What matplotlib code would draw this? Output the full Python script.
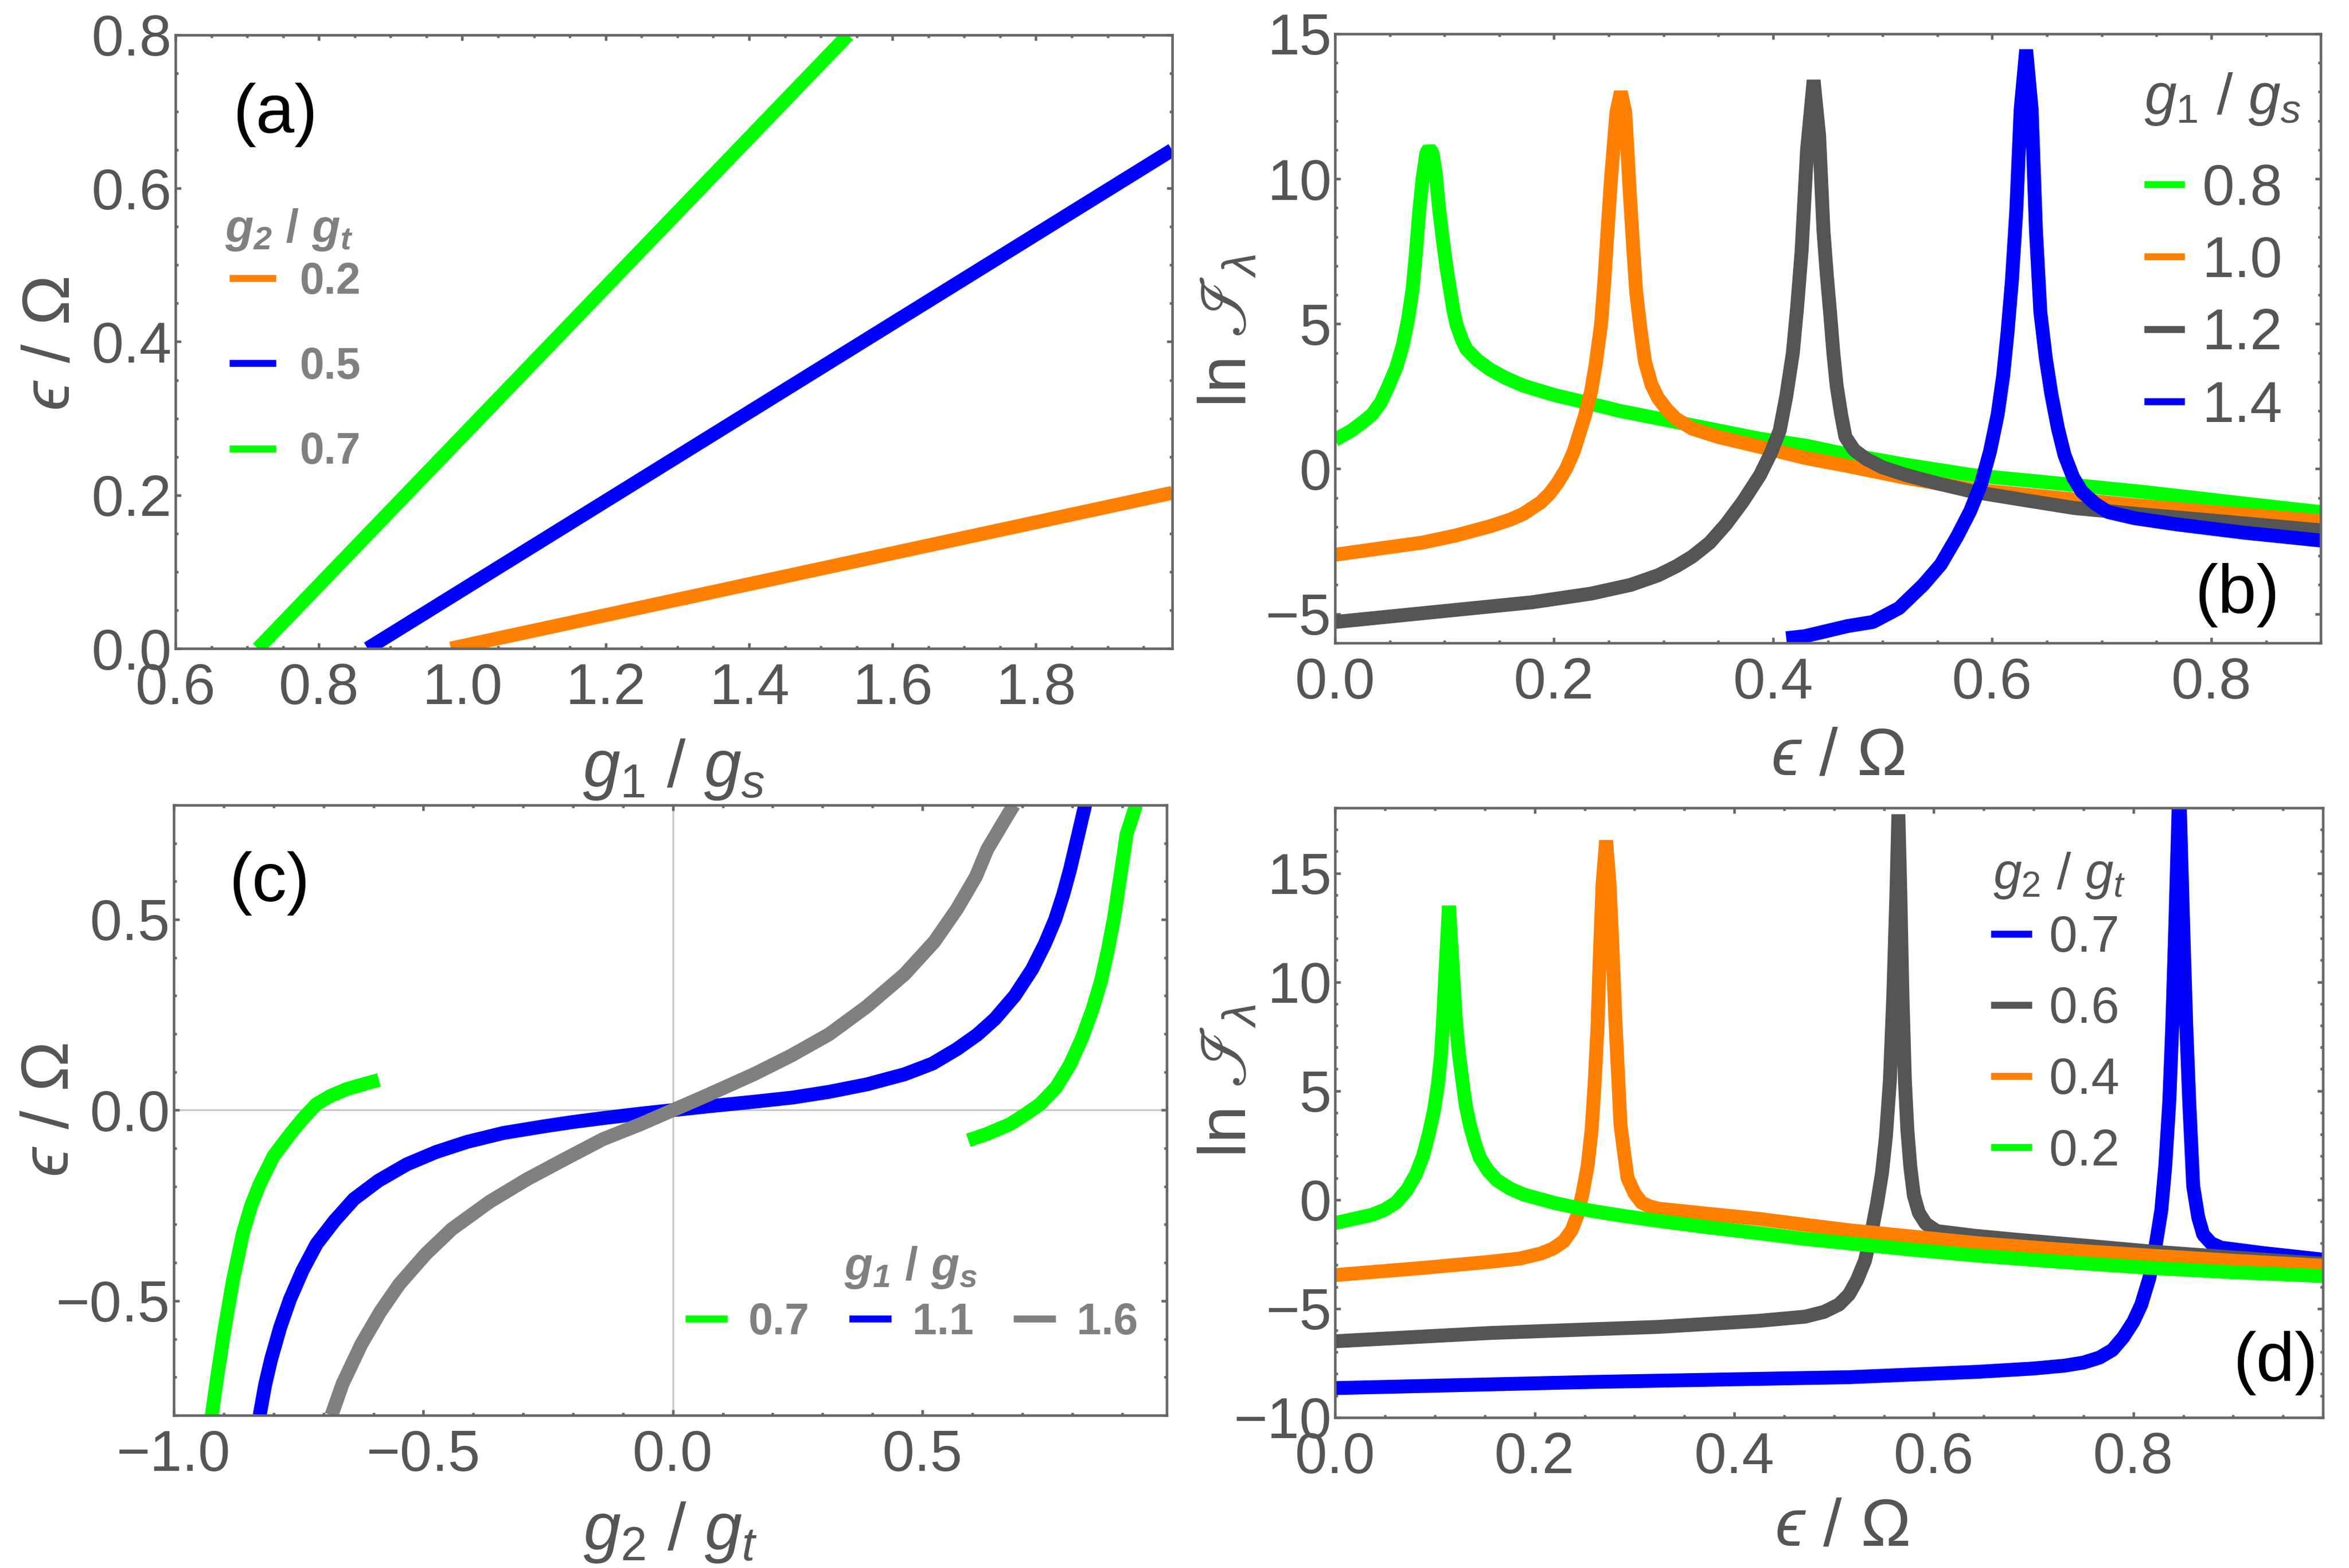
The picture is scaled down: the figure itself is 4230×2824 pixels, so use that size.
import numpy as np
import matplotlib
matplotlib.use("Agg")
from matplotlib import pyplot as plt
from matplotlib.lines import Line2D
from matplotlib.ticker import MultipleLocator

plt.rcParams["font.family"] = ["Liberation Sans", "DejaVu Sans"]
plt.rcParams["mathtext.fontset"] = "custom"
plt.rcParams["mathtext.rm"] = "Liberation Sans"
plt.rcParams["mathtext.it"] = "Liberation Sans:italic"
plt.rcParams["mathtext.bf"] = "Liberation Sans:bold"
plt.rcParams["mathtext.bfit"] = "Liberation Sans:italic:bold"
plt.rcParams["mathtext.fallback"] = "stixsans"

GREEN = "#00ff00"
ORANGE = "#ff8000"
BLUE = "#0000ff"
DGRAY = "#555555"
LGRAY = "#808080"
FRAME = "#666666"
TXT = "#555555"

# ---- (a) eps vs g1/gs for several g2/gt (straight lines)
a_labels = ["0.2", "0.5", "0.7"]
a_x = [[0.984, 1.99], [0.868, 1.99], [0.715, 1.538]]
a_y = [[0.0, 0.203], [0.0, 0.65], [0.0, 0.8]]

# ---- (b) ln I vs eps for several g1/gs
b_labels = ["0.8", "1.0", "1.2", "1.4"]
b_x_08 = [0.0, 0.015, 0.025, 0.034, 0.042, 0.049, 0.056, 0.062, 0.067, 0.071, 0.074,
          0.077, 0.08, 0.0835, 0.086, 0.089, 0.092, 0.095, 0.0985, 0.102, 0.105, 0.108,
          0.111, 0.116, 0.12, 0.13, 0.1415, 0.155, 0.172, 0.2, 0.228, 0.26, 0.295, 0.34,
          0.388, 0.43, 0.468, 0.52, 0.583, 0.66, 0.737, 0.82, 0.9]
b_y_08 = [1.0, 1.32, 1.6, 1.88, 2.3, 2.87, 3.5, 4.27, 5.2, 6.24, 7.5,
          8.9, 10.0, 10.9, 11.05, 10.9, 10.2, 9.0, 7.9, 6.9, 6.2, 5.5,
          4.97, 4.45, 4.13, 3.75, 3.43, 3.15, 2.87, 2.55, 2.3, 2.0, 1.74, 1.4,
          1.04, 0.8, 0.5, 0.15, -0.22, -0.5, -0.79, -1.15, -1.49]
b_x_10 = [0.0, 0.04, 0.08, 0.11, 0.1415, 0.16, 0.172, 0.188, 0.196, 0.203, 0.211,
          0.218, 0.228, 0.234, 0.238, 0.243, 0.246, 0.249, 0.252, 0.257, 0.261, 0.265,
          0.267, 0.269, 0.272, 0.275, 0.279, 0.283, 0.289, 0.295, 0.303, 0.311, 0.326,
          0.35, 0.388, 0.429, 0.468, 0.52, 0.583, 0.66, 0.737, 0.82, 0.9]
b_y_10 = [-2.96, -2.75, -2.54, -2.3, -1.98, -1.75, -1.55, -1.15, -0.85, -0.5, 0.0,
          0.6, 1.8, 2.7, 3.6, 5.0, 6.5, 8.3, 10.0, 12.3, 13.0, 12.3,
          11.0, 9.6, 7.8, 6.1, 4.8, 3.7, 2.9, 2.44, 2.05, 1.74, 1.39,
          1.1, 0.76, 0.38, 0.1, -0.3, -0.72, -1.0, -1.28, -1.55, -1.8]
b_x_12 = [0.0, 0.111, 0.18, 0.234, 0.27, 0.295, 0.312, 0.326, 0.342, 0.357, 0.372,
          0.388, 0.398, 0.406, 0.412, 0.418, 0.422, 0.426, 0.431, 0.437, 0.442, 0.446,
          0.449, 0.452, 0.455, 0.458, 0.462, 0.466, 0.474, 0.485, 0.5, 0.522, 0.55,
          0.583, 0.63, 0.675, 0.74, 0.798, 0.9]
b_y_12 = [-5.28, -4.86, -4.6, -4.3, -4.0, -3.67, -3.35, -3.03, -2.55, -1.91, -1.15,
          -0.22, 0.55, 1.32, 2.5, 3.99, 5.6, 7.5, 11.0, 13.4, 11.5, 8.2,
          6.7, 5.4, 4.0, 2.87, 1.9, 1.1, 0.65, 0.34, 0.05, -0.22, -0.5,
          -0.79, -1.08, -1.35, -1.58, -1.77, -2.12]
b_x_14 = [0.412, 0.429, 0.468, 0.491, 0.515, 0.537, 0.553, 0.568, 0.58, 0.59, 0.598,
          0.605, 0.61, 0.614, 0.618, 0.622, 0.626, 0.631, 0.636, 0.64, 0.644, 0.649,
          0.654, 0.66, 0.666, 0.674, 0.682, 0.694, 0.706, 0.73, 0.768, 0.83, 0.9]
b_y_14 = [-5.84, -5.77, -5.42, -5.28, -4.8, -4.0, -3.3, -2.33, -1.45, -0.5, 0.6,
          1.88, 3.2, 4.7, 6.5, 8.9, 12.4, 14.45, 12.4, 8.2, 5.4, 3.8,
          2.58, 1.4, 0.48, -0.3, -0.79, -1.2, -1.49, -1.7, -1.91, -2.2, -2.47]

# ---- (c) eps vs g2/gt for several g1/gs
c_labels = ["0.7", "1.1", "1.6"]
c_x_07_left = [-0.924, -0.912, -0.90, -0.882, -0.862, -0.845, -0.828, -0.8, -0.767,
               -0.74, -0.714, -0.685, -0.654, -0.62, -0.589]
c_y_07_left = [-0.8, -0.69, -0.587, -0.45, -0.325, -0.25, -0.194, -0.12, -0.063,
               -0.02, 0.016, 0.038, 0.055, 0.068, 0.079]
c_x_07_right = [0.592, 0.63, 0.675, 0.705, 0.736, 0.768, 0.796, 0.82, 0.841, 0.858,
                0.872, 0.884, 0.894, 0.902, 0.909, 0.928]
c_y_07_right = [-0.079, -0.062, -0.037, -0.012, 0.016, 0.06, 0.12, 0.19, 0.265, 0.34,
                0.422, 0.505, 0.592, 0.66, 0.723, 0.8]
c_x_11 = [-0.828, -0.817, -0.805, -0.787, -0.767, -0.742, -0.714, -0.678, -0.639, -0.59,
          -0.533, -0.475, -0.412, -0.34, -0.261, -0.2, -0.14, -0.07, 0.0, 0.07,
          0.162, 0.24, 0.313, 0.39, 0.464, 0.52, 0.569, 0.61, 0.645, 0.685,
          0.72, 0.745, 0.766, 0.782, 0.796, 0.81, 0.826]
c_y_11 = [-0.8, -0.72, -0.653, -0.57, -0.495, -0.42, -0.351, -0.29, -0.233, -0.185,
          -0.142, -0.11, -0.083, -0.06, -0.043, -0.031, -0.021, -0.01, 0.0, 0.01,
          0.022, 0.033, 0.048, 0.068, 0.094, 0.122, 0.16, 0.198, 0.239, 0.3,
          0.37, 0.435, 0.5, 0.565, 0.632, 0.71, 0.8]
c_x_16 = [-0.684, -0.662, -0.624, -0.586, -0.548, -0.495, -0.443, -0.367, -0.292, -0.216,
          -0.14, -0.065, 0.0, 0.065, 0.162, 0.237, 0.313, 0.388, 0.464, 0.524,
          0.569, 0.607, 0.63, 0.66, 0.683]
c_y_16 = [-0.8, -0.718, -0.613, -0.528, -0.456, -0.377, -0.312, -0.24, -0.181, -0.128,
          -0.076, -0.037, 0.0, 0.037, 0.094, 0.143, 0.199, 0.271, 0.356, 0.442,
          0.527, 0.612, 0.684, 0.75, 0.8]

# ---- (d) ln I vs eps for several g2/gt
d_labels = ["0.7", "0.6", "0.4", "0.2"]
d_x_02 = [0.0, 0.037, 0.05, 0.061, 0.072, 0.081, 0.088, 0.094, 0.099, 0.103, 0.106,
          0.108, 0.111, 0.114, 0.118, 0.121, 0.124, 0.128, 0.131, 0.135, 0.14, 0.145,
          0.153, 0.162, 0.175, 0.189, 0.22, 0.256, 0.29, 0.324, 0.375, 0.425, 0.471,
          0.515, 0.58, 0.645, 0.73, 0.818, 0.9, 0.99]
d_y_02 = [-1.07, -0.69, -0.45, -0.13, 0.45, 1.18, 2.0, 3.05, 4.1, 5.3, 6.6,
          8.1, 10.9, 13.5, 10.5, 8.2, 6.7, 5.3, 4.3, 3.43, 2.6, 1.93,
          1.35, 0.9, 0.52, 0.24, -0.15, -0.5, -0.75, -0.97, -1.27, -1.54, -1.8,
          -2.0, -2.3, -2.57, -2.86, -3.13, -3.33, -3.5]
d_x_04 = [0.0, 0.088, 0.155, 0.185, 0.206, 0.218, 0.229, 0.237, 0.243, 0.248, 0.253,
          0.257, 0.26, 0.263, 0.265, 0.268, 0.2715, 0.275, 0.278, 0.281, 0.284, 0.286,
          0.29, 0.293, 0.3, 0.307, 0.315, 0.324, 0.375, 0.425, 0.471, 0.515, 0.58,
          0.645, 0.73, 0.818, 0.9, 0.99]
d_y_04 = [-3.46, -3.13, -2.85, -2.7, -2.47, -2.25, -1.91, -1.4, -0.69, 0.3, 1.55,
          3.2, 5.3, 8.0, 10.9, 14.5, 16.5, 14.5, 11.5, 8.1, 5.3, 3.43,
          2.0, 1.0, 0.3, -0.13, -0.3, -0.41, -0.65, -0.88, -1.15, -1.4, -1.7,
          -2.0, -2.3, -2.57, -2.8, -3.03]
d_x_06 = [0.0, 0.155, 0.324, 0.425, 0.471, 0.49, 0.505, 0.515, 0.523, 0.531, 0.537,
          0.543, 0.548, 0.552, 0.556, 0.5595, 0.5625, 0.5645, 0.5665, 0.5685, 0.571,
          0.5735, 0.5765, 0.58, 0.585, 0.592, 0.603, 0.64, 0.679, 0.75, 0.818, 0.9, 0.99]
d_y_06 = [-6.5, -6.12, -5.84, -5.56, -5.37, -5.15, -4.81, -4.35, -3.69, -2.8, -1.63,
          -0.2, 1.2, 2.9, 5.5, 9.5, 14.0, 17.7, 14.0, 9.5, 5.5,
          3.2, 1.5, 0.2, -0.6, -1.1, -1.44, -1.65, -1.82, -2.1, -2.38, -2.65, -2.94]
d_x_07 = [0.0, 0.256, 0.515, 0.645, 0.7, 0.731, 0.75, 0.766, 0.779, 0.79, 0.8,
          0.808, 0.816, 0.822, 0.828, 0.832, 0.836, 0.839, 0.842, 0.846, 0.85, 0.853,
          0.856, 0.86, 0.865, 0.87, 0.878, 0.888, 0.93, 0.99]
d_y_07 = [-8.65, -8.37, -8.15, -7.9, -7.75, -7.62, -7.48, -7.25, -6.9, -6.31, -5.6,
          -4.81, -3.6, -2.19, -0.5, 1.55, 4.5, 8.0, 12.5, 19.0, 12.5, 8.0,
          4.5, 0.62, -0.8, -1.6, -2.0, -2.2, -2.45, -2.75]

LW = 6.0
line_kw = dict(lw=LW, solid_capstyle="butt", solid_joinstyle="bevel")
TICK_FS = 25
LABEL_FS = 29
PANEL_FS = 30


def style(ax, xmaj, xmin, ymaj, ymin):
    ax.xaxis.set_major_locator(MultipleLocator(xmaj))
    ax.xaxis.set_minor_locator(MultipleLocator(xmin))
    ax.yaxis.set_major_locator(MultipleLocator(ymaj))
    ax.yaxis.set_minor_locator(MultipleLocator(ymin))
    ax.tick_params(which="both", direction="in", top=True, right=True,
                   color=FRAME, labelcolor=TXT, labelsize=TICK_FS, width=1.1)
    ax.tick_params(which="major", length=2.4)
    ax.tick_params(which="minor", length=1.3)
    ax.tick_params(axis="x", pad=6)
    ax.tick_params(axis="y", pad=1.5)
    for s in ax.spines.values():
        s.set_color(FRAME)
        s.set_linewidth(1.1)


def set_labels(ax, xl, yl, xpos, ypos):
    ax.set_xlabel(xl, fontsize=LABEL_FS, color=TXT)
    ax.set_ylabel(yl, fontsize=LABEL_FS, color=TXT)
    ax.xaxis.set_label_coords(*xpos)
    ax.yaxis.set_label_coords(*ypos)
    ax.xaxis.label.set_verticalalignment("center")
    ax.yaxis.label.set_verticalalignment("center")


def handles(colors):
    return [Line2D([], [], color=c, lw=3.0, solid_capstyle="butt") for c in colors]


fig = plt.figure(figsize=(4230 / 300, 2824 / 300), dpi=300)

# (a)
ax = fig.add_axes([0.0747, 0.5864, 0.4243, 0.3913])
for xs, ys, c in zip(a_x, a_y, [ORANGE, BLUE, GREEN]):
    ax.plot(xs, ys, color=c, **line_kw)
ax.set_xlim(0.6, 1.99)
ax.set_ylim(0.0, 0.8)
style(ax, 0.2, 0.05, 0.2, 0.05)
set_labels(ax, r"$g_1$ / $g_s$", r"$ϵ$ / $\Omega$", (0.5, -0.197), (-0.124, 0.496))
ax.text(0.1, 0.87, "(a)", transform=ax.transAxes, fontsize=PANEL_FS, ha="center", va="center")
ax.text(0.0497, 0.682, r"$\mathbfit{g_2}$ $\mathbf{/}$ $\mathbfit{g_t}$", transform=ax.transAxes,
        fontsize=20, color=LGRAY, ha="left", va="center")
ax.legend(handles([ORANGE, BLUE, GREEN]), a_labels, loc="upper left",
          bbox_to_anchor=(0.054, 0.631), frameon=False,
          prop={"weight": "bold", "size": 19}, labelcolor=LGRAY,
          handlelength=1.06, handletextpad=0.55, labelspacing=0.99, borderpad=0,
          borderaxespad=0)

# (b)
ax = fig.add_axes([0.5683, 0.590, 0.4197, 0.3884])
for xs, ys, c in zip([b_x_08, b_x_10, b_x_12, b_x_14], [b_y_08, b_y_10, b_y_12, b_y_14],
                     [GREEN, ORANGE, DGRAY, BLUE]):
    ax.plot(xs, ys, color=c, **line_kw)
ax.set_xlim(0.0, 0.9)
ax.set_ylim(-6, 15)
style(ax, 0.2, 0.05, 5, 1)
set_labels(ax, r"$ϵ$ / $\Omega$", r"ln $ℐ_\lambda$", (0.51, -0.188), (-0.108, 0.512))
ax.text(0.915, 0.078, "(b)", transform=ax.transAxes, fontsize=PANEL_FS, ha="center", va="center")
ax.text(0.821, 0.893, r"$g_1$ / $g_s$", transform=ax.transAxes, fontsize=25, color=TXT,
        ha="left", va="center")
ax.legend(handles([GREEN, ORANGE, DGRAY, BLUE]), b_labels, loc="upper left",
          bbox_to_anchor=(0.821, 0.788), frameon=False, fontsize=25, labelcolor=TXT,
          handlelength=0.7, handletextpad=0.3, labelspacing=0.32, borderpad=0,
          borderaxespad=0)

# (c)
ax = fig.add_axes([0.074, 0.0974, 0.4228, 0.3892])
ax.axhline(0, color="#c8c8c8", lw=0.8, zorder=1)
ax.axvline(0, color="#c8c8c8", lw=0.8, zorder=1)
ax.plot(c_x_07_left, c_y_07_left, color=GREEN, **line_kw)
ax.plot(c_x_07_right, c_y_07_right, color=GREEN, **line_kw)
ax.plot(c_x_11, c_y_11, color=BLUE, **line_kw)
ax.plot(c_x_16, c_y_16, color=LGRAY, **line_kw)
ax.set_xlim(-1.0, 0.99)
ax.set_ylim(-0.8, 0.8)
style(ax, 0.5, 0.1, 0.5, 0.1)
set_labels(ax, r"$g_2$ / $g_t$", r"$ϵ$ / $\Omega$", (0.5, -0.192), (-0.124, 0.5))
ax.text(0.096, 0.872, "(c)", transform=ax.transAxes, fontsize=PANEL_FS, ha="center", va="center")
ax.text(0.742, 0.242, r"$\mathbfit{g_1}$ $\mathbf{/}$ $\mathbfit{g_s}$", transform=ax.transAxes,
        fontsize=20, color=LGRAY, ha="center", va="center")
ax.legend(handles([GREEN, BLUE, LGRAY]), c_labels, loc="upper left",
          bbox_to_anchor=(0.515, 0.186), frameon=False, ncol=3,
          prop={"weight": "bold", "size": 19}, labelcolor=LGRAY,
          handlelength=0.96, handletextpad=0.48, columnspacing=0.9, borderpad=0,
          borderaxespad=0)

# (d)
ax = fig.add_axes([0.5684, 0.096, 0.4205, 0.3888])
for xs, ys, c in zip([d_x_07, d_x_06, d_x_04, d_x_02], [d_y_07, d_y_06, d_y_04, d_y_02],
                     [BLUE, DGRAY, ORANGE, GREEN]):
    ax.plot(xs, ys, color=c, **line_kw)
ax.set_xlim(0.0, 0.99)
ax.set_ylim(-10, 18)
style(ax, 0.2, 0.05, 5, 1)
set_labels(ax, r"$ϵ$ / $\Omega$", r"ln $ℐ_\lambda$", (0.513, -0.182), (-0.108, 0.552))
ax.text(0.952, 0.089, "(d)", transform=ax.transAxes, fontsize=PANEL_FS, ha="center", va="center")
ax.text(0.666, 0.889, r"$g_2$ / $g_t$", transform=ax.transAxes, fontsize=22, color=TXT,
        ha="left", va="center")
ax.legend(handles([BLUE, DGRAY, ORANGE, GREEN]), d_labels, loc="upper left",
          bbox_to_anchor=(0.664, 0.825), frameon=False, fontsize=22, labelcolor=TXT,
          handlelength=0.8, handletextpad=0.33, labelspacing=0.46, borderpad=0,
          borderaxespad=0)

fig.savefig("out.png", dpi=300)
